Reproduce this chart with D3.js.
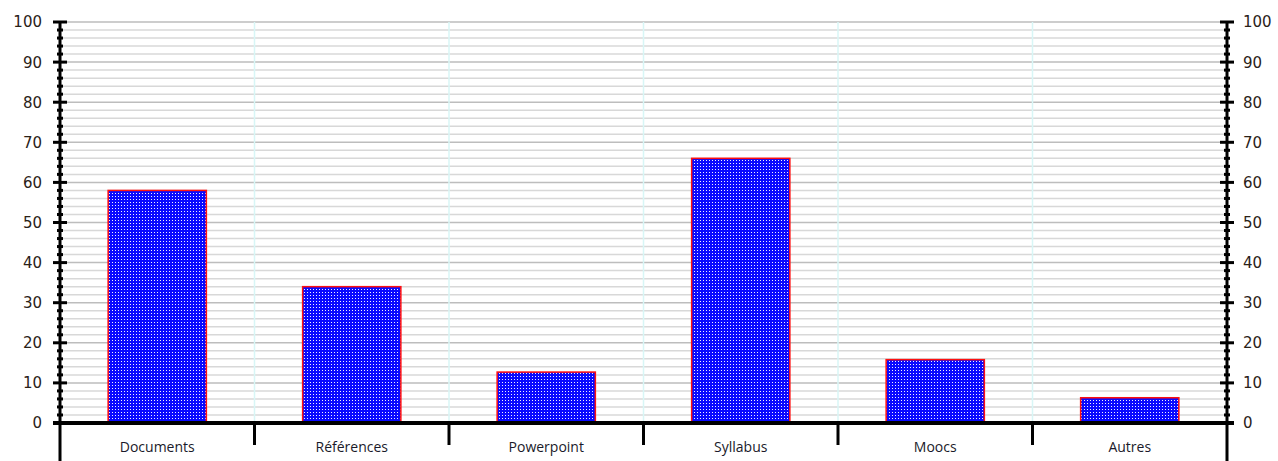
<!DOCTYPE html>
<html><head><meta charset="utf-8">
<script src="https://cdn.jsdelivr.net/npm/d3@7/dist/d3.min.js"></script>
<style>body{margin:0;background:#fff}svg{display:block}</style>
</head><body><svg id="c" width="1278" height="461"></svg>
<script>
const categories = ["Documents","Références","Powerpoint","Syllabus","Moocs","Autres"];
const values = [58, 34, 12.7, 66, 15.8, 6.3];
const yTicks = [0,10,20,30,40,50,60,70,80,90,100];
const minorTicks = d3.range(0, 101, 2);

const svg = d3.select("#c");
const mLeft = 60, mRight = 1227, mTop = 22, mBottom = 423;
const x = d3.scaleBand().domain(categories).range([mLeft, mRight]).paddingInner(0).paddingOuter(0);
const y = d3.scaleLinear().domain([0, 100]).range([mBottom, mTop]);

const defs = svg.append("defs");
const pat = defs.append("pattern").attr("id","dots").attr("patternUnits","userSpaceOnUse").attr("width",3).attr("height",3);
pat.append("rect").attr("width",3).attr("height",3).attr("fill","#0a0aff");
pat.append("rect").attr("x",1).attr("y",1).attr("width",1).attr("height",1).attr("fill","#f0f0ff");

// minor gridlines
svg.append("g").selectAll("line").data(minorTicks.filter(d => d % 10 !== 0)).join("line")
  .attr("x1", mLeft).attr("x2", mRight).attr("y1", d => y(d)).attr("y2", d => y(d))
  .attr("stroke", "#d8d8d8").attr("stroke-width", 1.5);
// major gridlines
svg.append("g").selectAll("line").data(yTicks.filter(d => d > 0)).join("line")
  .attr("x1", mLeft).attr("x2", mRight).attr("y1", d => y(d)).attr("y2", d => y(d))
  .attr("stroke", "#bdbdbd").attr("stroke-width", 1.5);
// vertical category gridlines
svg.append("g").selectAll("line").data(categories.slice(1)).join("line")
  .attr("x1", d => x(d)).attr("x2", d => x(d)).attr("y1", mTop).attr("y2", mBottom)
  .attr("stroke", "#d8f6f6").attr("stroke-width", 1.5);

// bars
const bw = x.bandwidth() * 0.505;
svg.append("g").selectAll("rect").data(categories).join("rect")
  .attr("x", d => x(d) + (x.bandwidth() - bw) / 2)
  .attr("width", bw)
  .attr("y", (d, i) => y(values[i]))
  .attr("height", (d, i) => mBottom - y(values[i]))
  .attr("fill", "url(#dots)").attr("stroke", "#ff1010").attr("stroke-width", 1.5);

// axes
function vAxis(xp, side) {
  const g = svg.append("g");
  g.append("line").attr("x1", xp).attr("x2", xp).attr("y1", mTop - 1).attr("y2", 461)
    .attr("stroke", "#000").attr("stroke-width", 3);
  g.selectAll("line.mj").data(yTicks).join("line").attr("class","mj")
    .attr("x1", xp - 7).attr("x2", xp + 7).attr("y1", d => y(d)).attr("y2", d => y(d))
    .attr("stroke", "#000").attr("stroke-width", 3);
  g.selectAll("line.mn").data(minorTicks.filter(d => d % 10 !== 0)).join("line").attr("class","mn")
    .attr("x1", xp - 3).attr("x2", xp + 3).attr("y1", d => y(d)).attr("y2", d => y(d))
    .attr("stroke", "#000").attr("stroke-width", 3);
  g.selectAll("text").data(yTicks).join("text")
    .attr("x", side === "left" ? xp - 18 : xp + 16)
    .attr("y", d => y(d)).attr("dy", "0.36em")
    .attr("text-anchor", side === "left" ? "end" : "start")
    .attr("font-family", "Tahoma, 'DejaVu Sans', Verdana, sans-serif")
    .attr("font-size", 15).attr("fill", "#2a2218")
    .text(d => d);
}
vAxis(mLeft, "left");
vAxis(mRight, "right");

// x axis
const xg = svg.append("g");
xg.append("line").attr("x1", mLeft - 7).attr("x2", mRight + 7).attr("y1", mBottom).attr("y2", mBottom)
  .attr("stroke", "#000").attr("stroke-width", 4);
xg.selectAll("line.ct").data(categories.slice(1)).join("line").attr("class","ct")
  .attr("x1", d => x(d)).attr("x2", d => x(d)).attr("y1", mBottom).attr("y2", 445)
  .attr("stroke", "#000").attr("stroke-width", 3);
xg.selectAll("text").data(categories).join("text")
  .attr("x", d => x(d) + x.bandwidth() / 2).attr("y", 447).attr("dy", "0.36em")
  .attr("text-anchor", "middle")
  .attr("font-family", "'Comic Sans MS', 'Open Sans', 'DejaVu Sans', sans-serif")
  .attr("font-size", 14).attr("fill", "#1a1a2a")
  .text(d => d);
</script></body></html>
